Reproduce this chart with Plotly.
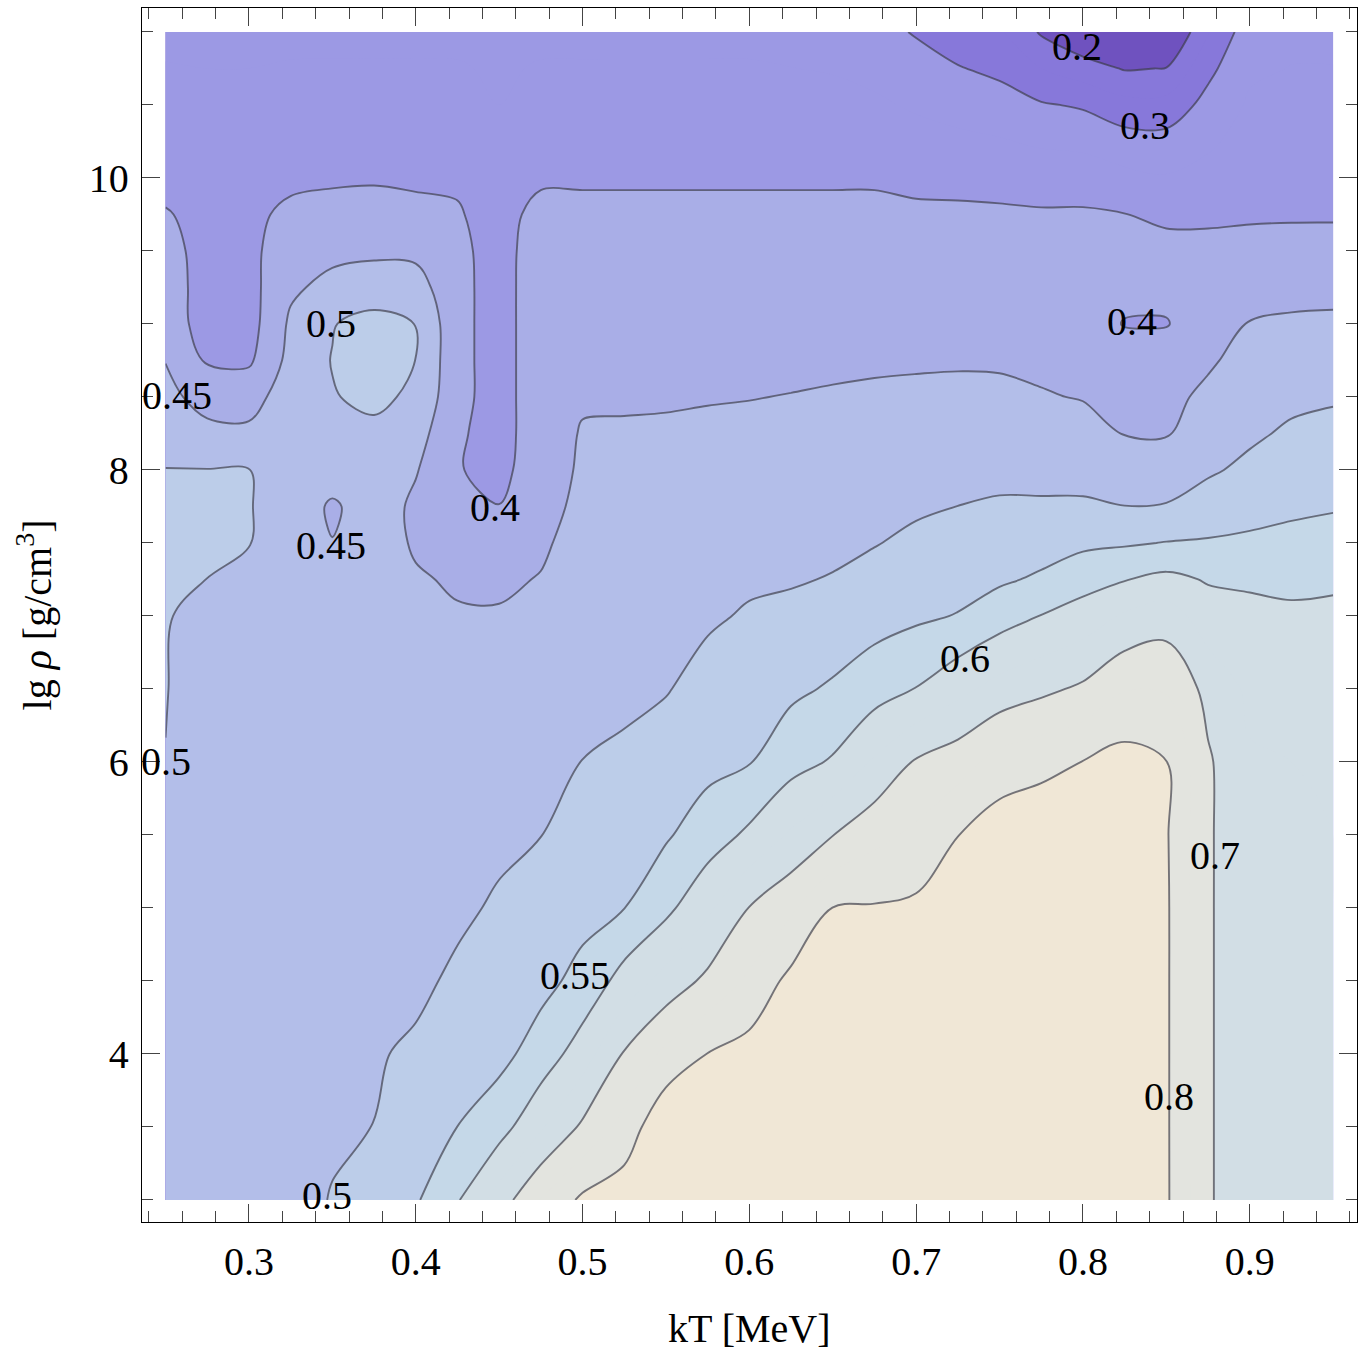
import plotly.graph_objects as go

# Grid: temperature kT [MeV] (columns) and log10 density (rows)
kT = [0.25, 0.275, 0.3, 0.325, 0.35, 0.375, 0.4, 0.425, 0.45, 0.475,
      0.5, 0.525, 0.55, 0.575, 0.6, 0.625, 0.65, 0.675, 0.7, 0.725,
      0.75, 0.775, 0.8, 0.825, 0.85, 0.875, 0.9, 0.925, 0.95]

lg_rho = [3.0, 3.5, 4.0, 4.5, 5.0, 5.5, 6.0, 6.5, 7.0, 7.25, 7.5, 7.75,
          8.0, 8.25, 8.5, 8.75, 9.0, 9.25, 9.5, 9.75, 10.0, 10.25, 10.5, 10.75, 11.0]

# Tabulated values, one row per density
rho_03_00 = [0.48, 0.478, 0.478, 0.48, 0.5028, 0.5235, 0.5445, 0.5955, 0.6736, 0.752, 0.81, 0.83, 0.85, 0.85, 0.85, 0.85, 0.85, 0.85, 0.85, 0.85, 0.85, 0.85, 0.85, 0.83, 0.8073, 0.7065, 0.66, 0.655, 0.65]
rho_03_50 = [0.48, 0.478, 0.478, 0.48, 0.492, 0.5005, 0.5253, 0.5502, 0.578, 0.6442, 0.7087, 0.7672, 0.845, 0.845, 0.845, 0.845, 0.85, 0.85, 0.85, 0.85, 0.85, 0.85, 0.85, 0.83, 0.807, 0.7065, 0.66, 0.655, 0.65]
rho_04_00 = [0.481, 0.478, 0.478, 0.48, 0.491, 0.496, 0.5067, 0.5289, 0.537, 0.5695, 0.6264, 0.7043, 0.7618, 0.801, 0.82, 0.84, 0.85, 0.85, 0.85, 0.85, 0.85, 0.85, 0.85, 0.83, 0.807, 0.7065, 0.66, 0.655, 0.65]
rho_04_50 = [0.483, 0.479, 0.479, 0.48, 0.49, 0.494, 0.491, 0.5076, 0.524, 0.5374, 0.5629, 0.62, 0.6675, 0.7122, 0.7595, 0.815, 0.84, 0.84, 0.84, 0.85, 0.85, 0.85, 0.85, 0.83, 0.807, 0.7065, 0.66, 0.655, 0.65]
rho_05_00 = [0.486, 0.48, 0.48, 0.48, 0.489, 0.492, 0.489, 0.492, 0.5056, 0.5183, 0.5364, 0.5494, 0.5875, 0.64, 0.7016, 0.741, 0.801, 0.804, 0.81, 0.84, 0.845, 0.845, 0.845, 0.83, 0.807, 0.7065, 0.66, 0.655, 0.65]
rho_05_50 = [0.49, 0.482, 0.481, 0.481, 0.488, 0.49, 0.487, 0.485, 0.4911, 0.4994, 0.5187, 0.5279, 0.5446, 0.5746, 0.6096, 0.6566, 0.6988, 0.7358, 0.7602, 0.799, 0.83, 0.835, 0.84, 0.83, 0.805, 0.7065, 0.66, 0.655, 0.65]
rho_06_00 = [0.4995, 0.484, 0.483, 0.482, 0.487, 0.488, 0.485, 0.478, 0.4784, 0.4859, 0.5005, 0.5065, 0.5199, 0.5368, 0.5476, 0.5818, 0.605, 0.6563, 0.7053, 0.7282, 0.7687, 0.7856, 0.801, 0.82, 0.801, 0.7065, 0.655, 0.65, 0.645]
rho_06_50 = [0.501, 0.487, 0.486, 0.484, 0.485, 0.486, 0.48, 0.47, 0.4657, 0.4724, 0.49, 0.4922, 0.4976, 0.5144, 0.5258, 0.5403, 0.5558, 0.5781, 0.6015, 0.6362, 0.6675, 0.6881, 0.7088, 0.7474, 0.7454, 0.685, 0.64, 0.635, 0.63]
rho_07_00 = [0.501, 0.4955, 0.49, 0.486, 0.482, 0.484, 0.468, 0.455, 0.455, 0.458, 0.485, 0.481, 0.4852, 0.4945, 0.504, 0.5097, 0.5193, 0.532, 0.542, 0.552, 0.5785, 0.6012, 0.6224, 0.6565, 0.6759, 0.6231, 0.62, 0.61, 0.61]
rho_07_25 = [0.507, 0.4997, 0.494, 0.487, 0.475, 0.482, 0.456, 0.443, 0.44, 0.453, 0.48, 0.4755, 0.479, 0.4868, 0.4943, 0.4966, 0.5021, 0.5143, 0.5255, 0.534, 0.5427, 0.5572, 0.5801, 0.5978, 0.6129, 0.596, 0.5888, 0.587, 0.5924]
rho_07_50 = [0.515, 0.509, 0.5008, 0.487, 0.4515, 0.48, 0.443, 0.425, 0.42, 0.44, 0.475, 0.4699, 0.4727, 0.4791, 0.4852, 0.4875, 0.4916, 0.498, 0.5089, 0.5171, 0.5238, 0.5297, 0.5406, 0.5446, 0.5517, 0.5545, 0.5583, 0.5627, 0.5684]
rho_07_75 = [0.514, 0.5113, 0.5016, 0.485, 0.442, 0.478, 0.44, 0.41, 0.401, 0.432, 0.4623, 0.4644, 0.4665, 0.4714, 0.4762, 0.4784, 0.482, 0.4873, 0.4942, 0.5002, 0.5049, 0.5053, 0.5061, 0.5006, 0.5033, 0.521, 0.5332, 0.5417, 0.5461]
rho_08_00 = [0.501, 0.5011, 0.5008, 0.482, 0.478, 0.48, 0.4535, 0.403, 0.385, 0.43, 0.4557, 0.4588, 0.4602, 0.4637, 0.4671, 0.4693, 0.4724, 0.4766, 0.4819, 0.4864, 0.4888, 0.4867, 0.4842, 0.4727, 0.4702, 0.4938, 0.5101, 0.5243, 0.5294]
rho_08_25 = [0.4826, 0.4647, 0.4577, 0.475, 0.487, 0.4877, 0.47, 0.4078, 0.378, 0.432, 0.4525, 0.4532, 0.454, 0.456, 0.4581, 0.4601, 0.4628, 0.4659, 0.4695, 0.4725, 0.4735, 0.4698, 0.465, 0.4486, 0.447, 0.4764, 0.4924, 0.5069, 0.5126]
rho_08_50 = [0.4652, 0.429, 0.435, 0.47, 0.497, 0.512, 0.49, 0.415, 0.378, 0.432, 0.446, 0.4465, 0.447, 0.4481, 0.4491, 0.451, 0.4532, 0.4553, 0.4571, 0.4587, 0.4583, 0.4528, 0.448, 0.4406, 0.4387, 0.459, 0.4789, 0.4899, 0.4954]
rho_08_75 = [0.4486, 0.395, 0.392, 0.465, 0.502, 0.53, 0.4995, 0.415, 0.378, 0.432, 0.4378, 0.4383, 0.4388, 0.4397, 0.4404, 0.442, 0.4437, 0.4451, 0.4458, 0.4463, 0.4455, 0.4422, 0.4391, 0.4326, 0.4305, 0.4442, 0.4654, 0.4732, 0.4768]
rho_09_00 = [0.437, 0.371, 0.38, 0.458, 0.497, 0.522, 0.499, 0.415, 0.378, 0.432, 0.4296, 0.43, 0.4305, 0.4312, 0.4318, 0.4331, 0.4344, 0.4354, 0.4359, 0.4363, 0.4356, 0.4328, 0.4302, 0.397, 0.397, 0.4322, 0.4519, 0.4564, 0.4582]
rho_09_25 = [0.4255, 0.378, 0.383, 0.4418, 0.4641, 0.4646, 0.47, 0.415, 0.378, 0.432, 0.4214, 0.4218, 0.4222, 0.4227, 0.4232, 0.4241, 0.425, 0.4258, 0.4261, 0.4264, 0.4257, 0.4234, 0.4213, 0.4166, 0.4141, 0.4201, 0.4327, 0.4363, 0.4372]
rho_09_50 = [0.4139, 0.385, 0.389, 0.4246, 0.4377, 0.4448, 0.4393, 0.413, 0.378, 0.43, 0.4132, 0.4135, 0.4139, 0.4142, 0.4145, 0.4152, 0.4156, 0.4161, 0.4162, 0.4164, 0.4158, 0.414, 0.4124, 0.4086, 0.408, 0.408, 0.4126, 0.414, 0.4144]
rho_09_75 = [0.4024, 0.39, 0.392, 0.4075, 0.414, 0.4178, 0.415, 0.405, 0.376, 0.42, 0.405, 0.405, 0.405, 0.405, 0.405, 0.405, 0.405, 0.405, 0.4064, 0.4064, 0.4058, 0.4046, 0.405, 0.4007, 0.395, 0.395, 0.3952, 0.3959, 0.3959]
rho_10_00 = [0.39, 0.38, 0.385, 0.3926, 0.3944, 0.3953, 0.3908, 0.392, 0.365, 0.39, 0.3975, 0.3975, 0.3975, 0.3975, 0.3975, 0.3975, 0.3975, 0.3975, 0.3915, 0.3897, 0.3866, 0.3807, 0.38, 0.3624, 0.3539, 0.3667, 0.3821, 0.3847, 0.3847]
rho_10_25 = [0.3776, 0.37, 0.37, 0.3795, 0.3808, 0.3815, 0.3805, 0.3795, 0.355, 0.3794, 0.3802, 0.3805, 0.3805, 0.3805, 0.3805, 0.3819, 0.3807, 0.3774, 0.3677, 0.3607, 0.354, 0.3427, 0.3364, 0.3215, 0.3181, 0.3417, 0.3691, 0.3735, 0.3735]
rho_10_50 = [0.365, 0.36, 0.36, 0.3663, 0.3672, 0.3677, 0.367, 0.3663, 0.35, 0.3663, 0.3668, 0.367, 0.367, 0.367, 0.367, 0.3663, 0.364, 0.3573, 0.3439, 0.3317, 0.3214, 0.3047, 0.2942, 0.2667, 0.2673, 0.3168, 0.3561, 0.3623, 0.3623]
rho_10_75 = [0.3525, 0.35, 0.35, 0.3532, 0.3536, 0.3538, 0.3535, 0.3532, 0.345, 0.3532, 0.3534, 0.3535, 0.3535, 0.3535, 0.3535, 0.3506, 0.347, 0.3371, 0.32, 0.3028, 0.2888, 0.2504, 0.223, 0.1963, 0.2015, 0.2869, 0.343, 0.3512, 0.3512]
rho_11_00 = [0.34, 0.34, 0.34, 0.34, 0.34, 0.34, 0.34, 0.34, 0.34, 0.34, 0.34, 0.34, 0.34, 0.34, 0.34, 0.335, 0.33, 0.317, 0.296, 0.2738, 0.2563, 0.1938, 0.1519, 0.126, 0.1345, 0.247, 0.33, 0.34, 0.34]

z = [rho_03_00, rho_03_50, rho_04_00, rho_04_50, rho_05_00, rho_05_50,
     rho_06_00, rho_06_50, rho_07_00, rho_07_25, rho_07_50, rho_07_75,
     rho_08_00, rho_08_25, rho_08_50, rho_08_75, rho_09_00, rho_09_25,
     rho_09_50, rho_09_75, rho_10_00, rho_10_25, rho_10_50, rho_10_75, rho_11_00]

# Contour levels that are drawn and labelled
contour_levels = [0.2, 0.3, 0.4, 0.45, 0.5, 0.55, 0.6, 0.7, 0.8]

# In-plot level labels
label_text = ["0.2", "0.3", "0.4", "0.5", "0.45", "0.4", "0.45", "0.5", "0.6", "0.7", "0.55", "0.8", "0.5"]
label_kT = [0.7964, 0.8372, 0.8294, 0.3492, 0.2568, 0.4475, 0.3492, 0.2500, 0.7293, 0.8791, 0.4954, 0.8516, 0.3468]
label_rho = [10.90, 10.36, 9.02, 9.00, 8.51, 7.74, 7.48, 6.00, 6.71, 5.36, 4.54, 3.71, 3.03]

SERIF = "Liberation Serif, Times New Roman, serif"

# Band colours from low to high values (one per 0.05 step, bands below 0.2 .. above 0.8)
band_colors = [
    "#6f52bf",  # < 0.2
    "#8778da", "#8778da",  # 0.2 - 0.3
    "#9c99e4", "#9c99e4",  # 0.3 - 0.4
    "#a9aee7",  # 0.4 - 0.45
    "#b3bee9",  # 0.45 - 0.5
    "#bccde9",  # 0.5 - 0.55
    "#c5d8e8",  # 0.55 - 0.6
    "#d2dee5", "#d2dee5",  # 0.6 - 0.7
    "#e3e4df", "#e3e4df",  # 0.7 - 0.8
    "#f0e7d6",  # > 0.8
]
n_bands = len(band_colors) - 1
colorscale = [[k / n_bands, c] for k, c in enumerate(band_colors)]

fig = go.Figure()

fig.add_trace(go.Contour(
    x=kT, y=lg_rho, z=z,
    contours=dict(start=0.2, end=0.8, size=0.05, coloring="fill", showlines=False),
    colorscale=colorscale,
    line=dict(width=0),
    showscale=False,
    hoverinfo="skip",
))

for lv in contour_levels:
    fig.add_trace(go.Contour(
        x=kT, y=lg_rho, z=z,
        contours=dict(start=lv, end=lv, size=0.05, coloring="none"),
        line=dict(color="rgba(60,60,72,0.68)", width=1.9),
        showscale=False,
        hoverinfo="skip",
    ))

annotations = []
for t, lx, ly in zip(label_text, label_kT, label_rho):
    annotations.append(dict(
        x=lx, y=ly, xref="x", yref="y", text=t, showarrow=False,
        xanchor="center", yanchor="middle",
        font=dict(family=SERIF, size=40, color="black"),
    ))

annotations.append(dict(
    x=0.5, y=-0.0875, xref="paper", yref="paper", text="kT [MeV]",
    showarrow=False, xanchor="center", yanchor="middle",
    font=dict(family=SERIF, size=40, color="black"),
))
annotations.append(dict(
    x=-0.0885, y=0.5, xref="paper", yref="paper",
    text="lg <i>ρ</i> [g/cm<sup>3</sup>]", textangle=-90,
    showarrow=False, xanchor="center", yanchor="middle",
    font=dict(family=SERIF, size=40, color="black"),
))

axis_common = dict(
    showline=True, linecolor="black", linewidth=1.3, mirror="allticks",
    ticks="inside", tickcolor="#444", tickwidth=1, ticklen=18,
    showgrid=False, zeroline=False,
    tickfont=dict(family=SERIF, size=40, color="black"),
)

fig.update_layout(
    width=1366, height=1352,
    margin=dict(l=142, r=9, t=8, b=130),
    paper_bgcolor="white", plot_bgcolor="white",
    showlegend=False,
    annotations=annotations,
    xaxis=dict(
        range=[0.2359, 0.9643], tick0=0.3, dtick=0.1, tickformat=".1f",
        minor=dict(ticks="inside", ticklen=11, tickcolor="#444", dtick=0.02, showgrid=False),
        ticklabelstandoff=4,
        **axis_common,
    ),
    yaxis=dict(
        range=[2.849, 11.164], tick0=0, dtick=2,
        minor=dict(ticks="inside", ticklen=11, tickcolor="#444", dtick=0.5, showgrid=False),
        ticklabelstandoff=4,
        **axis_common,
    ),
)

fig.write_html("out.html")
